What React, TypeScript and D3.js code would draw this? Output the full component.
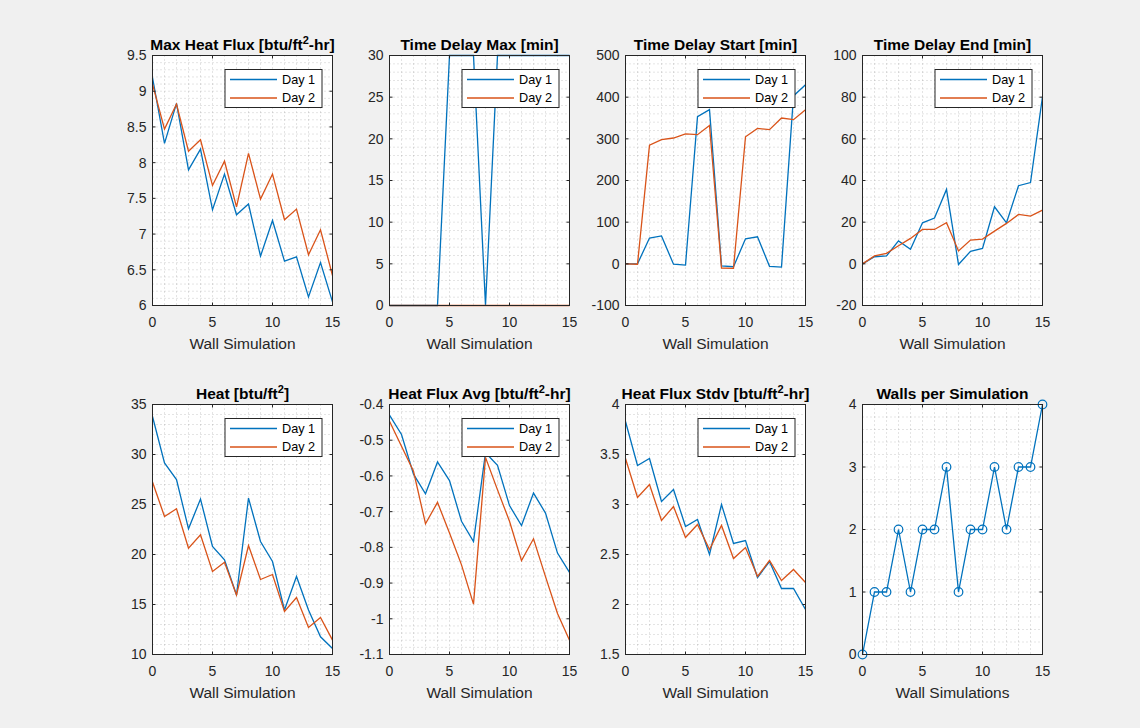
import React from "react";
import * as d3 from "d3";

// ---------- DATA ----------
const wallSim = [0, 1, 2, 3, 4, 5, 6, 7, 8, 9, 10, 11, 12, 13, 14, 15];
const xTicks = [0, 5, 10, 15];
const seriesNames = ["Day 1", "Day 2"];

const maxHeatFluxDay1 = [9.19, 8.27, 8.83, 7.9, 8.19, 7.34, 7.84, 7.27, 7.42, 6.69, 7.19, 6.62, 6.68, 6.12, 6.6, 6.05];
const maxHeatFluxDay2 = [9.1, 8.47, 8.82, 8.16, 8.32, 7.68, 8.02, 7.38, 8.13, 7.49, 7.84, 7.2, 7.35, 6.71, 7.06, 6.42];
const maxHeatFluxTicks = [6, 6.5, 7, 7.5, 8, 8.5, 9, 9.5];

const timeDelayMaxDay1 = [0, 0, 0, 0, 0, 30, 30, 30, 0, 30, 30, 30, 30, 30, 30, 30];
const timeDelayMaxDay2 = [0, 0, 0, 0, 0, 0, 0, 0, 0, 0, 0, 0, 0, 0, 0, 0];
const timeDelayMaxTicks = [0, 5, 10, 15, 20, 25, 30];

const timeDelayStartDay1 = [0, 0, 62, 67, -1, -3, 353, 370, -5, -7, 60, 65, -6, -8, 403, 430];
const timeDelayStartDay2 = [0, -1, 285, 298, 302, 312, 310, 332, -10, -11, 305, 325, 322, 350, 346, 370];
const timeDelayStartTicks = [-100, 0, 100, 200, 300, 400, 500];

const timeDelayEndDay1 = [0, 3.4, 3.8, 11, 7, 19.7, 22, 35.7, -0.3, 6, 7.4, 27.4, 19.7, 37.5, 39, 80.3];
const timeDelayEndDay2 = [0, 3.8, 5, 8.7, 12.2, 16.5, 16.5, 19.7, 6.2, 11.4, 11.9, 15.7, 19.4, 23.7, 22.9, 25.8];
const timeDelayEndTicks = [-20, 0, 20, 40, 60, 80, 100];

const heatDay1 = [33.8, 29.15, 27.5, 22.57, 25.54, 20.8, 19.46, 15.95, 25.64, 21.3, 19.3, 14.45, 17.8, 14.45, 11.77, 10.6];
const heatDay2 = [27.25, 23.8, 24.57, 20.63, 21.97, 18.3, 19.23, 15.95, 20.9, 17.5, 18.0, 14.3, 15.7, 12.7, 13.7, 11.44];
const heatTicks = [10, 15, 20, 25, 30, 35];

const heatFluxAvgDay1 = [-0.43, -0.484, -0.595, -0.65, -0.561, -0.613, -0.727, -0.784, -0.535, -0.57, -0.683, -0.739, -0.648, -0.704, -0.816, -0.87];
const heatFluxAvgDay2 = [-0.447, -0.517, -0.587, -0.734, -0.674, -0.76, -0.849, -0.959, -0.548, -0.639, -0.727, -0.837, -0.776, -0.882, -0.985, -1.06];
const heatFluxAvgTicks = [-1.1, -1, -0.9, -0.8, -0.7, -0.6, -0.5, -0.4];

const heatFluxStdvDay1 = [3.83, 3.39, 3.46, 3.03, 3.15, 2.78, 2.85, 2.5, 3.0, 2.61, 2.64, 2.27, 2.43, 2.16, 2.16, 1.95];
const heatFluxStdvDay2 = [3.46, 3.07, 3.2, 2.84, 2.98, 2.67, 2.8, 2.55, 2.79, 2.46, 2.57, 2.28, 2.44, 2.24, 2.35, 2.22];
const heatFluxStdvTicks = [1.5, 2, 2.5, 3, 3.5, 4];

const wallsPerSim = [0, 1, 1, 2, 1, 2, 2, 3, 1, 2, 2, 3, 2, 3, 3, 4];
const wallsTicks = [0, 1, 2, 3, 4];

// ---------- STYLE ----------
const BLUE = "#0072BD";
const ORANGE = "#D95319";
const FONT = "'Liberation Sans', Arial, Helvetica, sans-serif";
const AX = "#262626";
const W = 180;
const H = 250;
const colLeft = [152.5, 389.5, 625.5, 862.5];
const rowTop = [55.5, 404.5];

type Panel = {
  title: [string, string?, string?];
  ticks: number[];
  minor: number;
  series: number[][];
  markers?: boolean;
  legend: boolean;
  xlabel: string;
};

const panels: Panel[] = [
  { title: ["Max Heat Flux [btu/ft", "2", "-hr]"], ticks: maxHeatFluxTicks, minor: 0.1, series: [maxHeatFluxDay1, maxHeatFluxDay2], legend: true, xlabel: "Wall Simulation" },
  { title: ["Time Delay Max [min]"], ticks: timeDelayMaxTicks, minor: 1, series: [timeDelayMaxDay1, timeDelayMaxDay2], legend: true, xlabel: "Wall Simulation" },
  { title: ["Time Delay Start [min]"], ticks: timeDelayStartTicks, minor: 20, series: [timeDelayStartDay1, timeDelayStartDay2], legend: true, xlabel: "Wall Simulation" },
  { title: ["Time Delay End [min]"], ticks: timeDelayEndTicks, minor: 4, series: [timeDelayEndDay1, timeDelayEndDay2], legend: true, xlabel: "Wall Simulation" },
  { title: ["Heat [btu/ft", "2", "]"], ticks: heatTicks, minor: 1, series: [heatDay1, heatDay2], legend: true, xlabel: "Wall Simulation" },
  { title: ["Heat Flux Avg [btu/ft", "2", "-hr]"], ticks: heatFluxAvgTicks, minor: 0.02, series: [heatFluxAvgDay1, heatFluxAvgDay2], legend: true, xlabel: "Wall Simulation" },
  { title: ["Heat Flux Stdv [btu/ft", "2", "-hr]"], ticks: heatFluxStdvTicks, minor: 0.1, series: [heatFluxStdvDay1, heatFluxStdvDay2], legend: true, xlabel: "Wall Simulation" },
  { title: ["Walls per Simulation"], ticks: wallsTicks, minor: 0.2, series: [wallsPerSim], markers: true, legend: false, xlabel: "Wall Simulations" },
];

const fmt = (v: number) => String(Math.round(v * 1000) / 1000);

function PanelView({ p, left, top }: { p: Panel; left: number; top: number }) {
  const x = d3.scaleLinear().domain([wallSim[0], wallSim[wallSim.length - 1]]).range([left, left + W]);
  const y = d3.scaleLinear().domain([p.ticks[0], p.ticks[p.ticks.length - 1]]).range([top + H, top]);
  const xMinor = d3.range(wallSim[0], wallSim[wallSim.length - 1] + 0.001, 1);
  const y0 = p.ticks[0];
  const y1 = p.ticks[p.ticks.length - 1];
  const nMinor = Math.round((y1 - y0) / p.minor);
  const yMinor = d3.range(0, nMinor + 1).map((k) => y0 + k * p.minor);
  const line = d3
    .line<number>()
    .x((_, i) => x(wallSim[i]))
    .y((d) => y(d));
  const colors = [BLUE, ORANGE];
  const tl = 3;
  const lgW = 97;
  const lgH = 38;
  const lgX = left + W - 10.5 - lgW;
  const lgY = top + 14;
  return (
    <g>
      <rect x={left} y={top} width={W} height={H} fill="#fff" />
      {xMinor.map((v) => (
        <line key={"gx" + v} x1={x(v)} x2={x(v)} y1={top} y2={top + H} stroke={AX} strokeOpacity={0.35} strokeWidth={0.7} strokeDasharray="1,3" />
      ))}
      {yMinor.map((v, i) => (
        <line key={"gy" + i} x1={left} x2={left + W} y1={y(v)} y2={y(v)} stroke={AX} strokeOpacity={0.35} strokeWidth={0.7} strokeDasharray="1,3" />
      ))}
      {p.series.map((s, i) => (
        <path key={"s" + i} d={line(s) || ""} fill="none" stroke={colors[i]} strokeWidth={1.3} />
      ))}
      {p.markers &&
        p.series[0].map((v, i) => (
          <circle key={"m" + i} cx={x(wallSim[i])} cy={y(v)} r={4.3} fill="none" stroke={BLUE} strokeWidth={1.2} />
        ))}
      <rect x={left} y={top} width={W} height={H} fill="none" stroke={AX} strokeWidth={1} />
      {xTicks.map((v) => (
        <g key={"xt" + v}>
          <line x1={x(v)} x2={x(v)} y1={top + H} y2={top + H - tl} stroke={AX} />
          <line x1={x(v)} x2={x(v)} y1={top} y2={top + tl} stroke={AX} />
          <text x={x(v)} y={top + H + 21} textAnchor="middle" fontSize={14} fill={AX} fontFamily={FONT}>
            {fmt(v)}
          </text>
        </g>
      ))}
      {p.ticks.map((v) => (
        <g key={"yt" + v}>
          <line x1={left} x2={left + tl} y1={y(v)} y2={y(v)} stroke={AX} />
          <line x1={left + W} x2={left + W - tl} y1={y(v)} y2={y(v)} stroke={AX} />
          <text x={left - 6} y={y(v)} dy="0.35em" textAnchor="end" fontSize={14} fill={AX} fontFamily={FONT}>
            {fmt(v)}
          </text>
        </g>
      ))}
      <text x={left + W / 2} y={top - 6} textAnchor="middle" fontSize={15.5} fontWeight="bold" fill="#000" fontFamily={FONT}>
        <tspan>{p.title[0]}</tspan>
        {p.title[1] && (
          <tspan dy={-6} fontSize={11}>
            {p.title[1]}
          </tspan>
        )}
        {p.title[2] && <tspan dy={6}>{p.title[2]}</tspan>}
      </text>
      <text x={left + W / 2} y={top + H + 43} textAnchor="middle" fontSize={15.5} fill={AX} fontFamily={FONT}>
        {p.xlabel}
      </text>
      {p.legend && (
        <g>
          <rect x={lgX} y={lgY} width={lgW} height={lgH} fill="#fff" stroke={AX} strokeWidth={1} />
          {seriesNames.map((n, i) => (
            <g key={n}>
              <line x1={lgX + 5} x2={lgX + 52} y1={lgY + 10 + i * 18.5} y2={lgY + 10 + i * 18.5} stroke={colors[i]} strokeWidth={1.3} />
              <text x={lgX + 57} y={lgY + 10 + i * 18.5} dy="0.35em" fontSize={12.7} fill="#000" fontFamily={FONT}>
                {n}
              </text>
            </g>
          ))}
        </g>
      )}
    </g>
  );
}

export default function App() {
  return (
    <svg width={1140} height={728} style={{ position: "absolute", left: 0, top: 0, background: "#f0f0f0" }}>
      <rect x={0} y={0} width={1140} height={728} fill="#f0f0f0" />
      {panels.map((p, i) => (
        <PanelView key={i} p={p} left={colLeft[i % 4]} top={rowTop[Math.floor(i / 4)]} />
      ))}
    </svg>
  );
}
